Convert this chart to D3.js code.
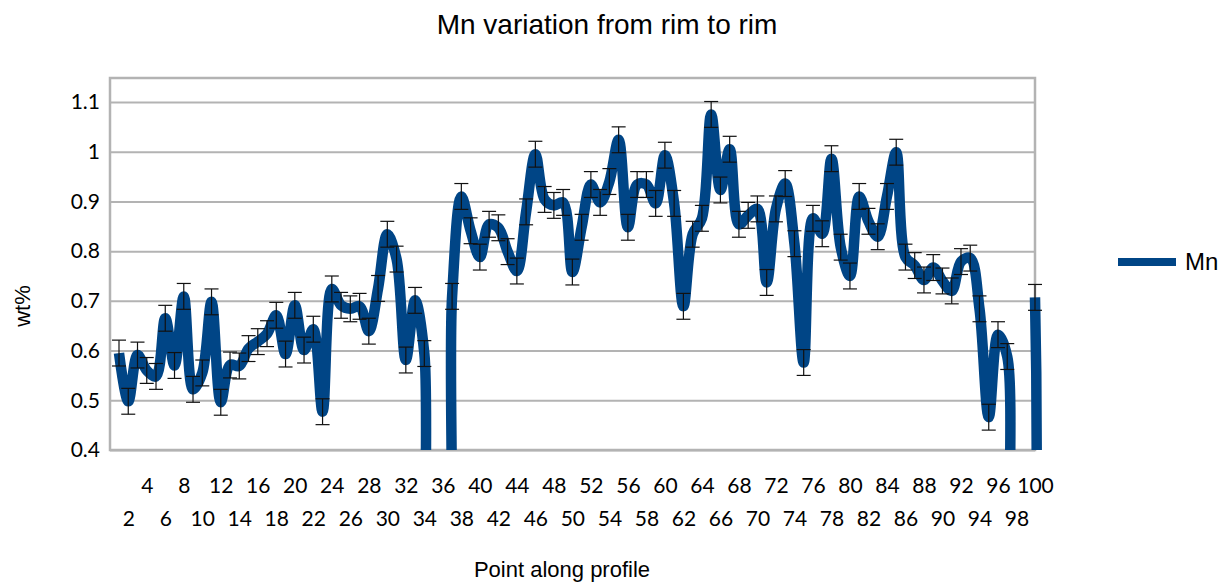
<!DOCTYPE html>
<html>
<head>
<meta charset="utf-8">
<script src="https://cdn.jsdelivr.net/npm/d3@7"></script>
<style>
  body { margin: 0; background: #fff; }
  svg { display: block; }
</style>
</head>
<body>
<script>
'use strict';

// point number along the profile (x categories)
const pointIds = [
  1, 2, 3, 4, 5, 6, 7, 8, 9, 10, 11, 12, 13, 14, 15, 16, 17, 18, 19, 20,
  21, 22, 23, 24, 25, 26, 27, 28, 29, 30, 31, 32, 33, 34, 35, 36, 37, 38, 39, 40,
  41, 42, 43, 44, 45, 46, 47, 48, 49, 50, 51, 52, 53, 54, 55, 56, 57, 58, 59, 60,
  61, 62, 63, 64, 65, 66, 67, 68, 69, 70, 71, 72, 73, 74, 75, 76, 77, 78, 79, 80,
  81, 82, 83, 84, 85, 86, 87, 88, 89, 90, 91, 92, 93, 94, 95, 96, 97, 98, 99, 100
];

// Mn wt% at each point (0 = no reading, drops off the bottom of the chart)
const mnValues = [
  0.595, 0.498, 0.591, 0.560, 0.548, 0.665, 0.570, 0.709, 0.522, 0.555,
  0.698, 0.496, 0.571, 0.569, 0.604, 0.618, 0.634, 0.671, 0.593, 0.691,
  0.601, 0.643, 0.477, 0.724, 0.691, 0.684, 0.689, 0.639, 0.725, 0.834,
  0.784, 0.581, 0.701, 0.594, 0, 0, 0.709, 0.910, 0.841, 0.788,
  0.854, 0.847, 0.799, 0.760, 0.879, 0.995, 0.904, 0.892, 0.898, 0.758,
  0.848, 0.934, 0.898, 0.940, 1.024, 0.848, 0.934, 0.934, 0.896, 0.993,
  0.896, 0.689, 0.834, 0.866, 1.075, 0.923, 1.005, 0.854, 0.872, 0.885,
  0.737, 0.885, 0.936, 0.815, 0.576, 0.866, 0.835, 0.986, 0.808, 0.750,
  0.910, 0.860, 0.829, 0.910, 0.999, 0.788, 0.771, 0.742, 0.767, 0.740,
  0.720, 0.779, 0.786, 0.684, 0.466, 0.632, 0.588, 0, 0, 0.707
];

// +/- error on every reading
const errorMargin = 0.026;

// tick labels
const xTopRow = [4, 8, 12, 16, 20, 24, 28, 32, 36, 40, 44, 48, 52, 56, 60, 64, 68, 72, 76, 80, 84, 88, 92, 96, 100];
const xBottomRow = [2, 6, 10, 14, 18, 22, 26, 30, 34, 38, 42, 46, 50, 54, 58, 62, 66, 70, 74, 78, 82, 86, 90, 94, 98];
const yTicks = [0.4, 0.5, 0.6, 0.7, 0.8, 0.9, 1, 1.1];

(function() {

  let svgContainer = "";
  const blue = "#004586";
  const gridGrey = "#b3b3b3";
  const textFont = "'Liberation Sans', Arial, sans-serif";
  const tickFont = "Lato, 'Open Sans', sans-serif";

  // plot frame
  const plot = { left: 110, right: 1035, top: 78, bottom: 450 };

  window.onload = function() {
    svgContainer = d3.select('body')
      .append('svg')
      .attr('width', 1230)
      .attr('height', 583);

    let data = pointIds.map((p, i) => ({ point: p, value: mnValues[i] }));
    let map = drawAxes();
    plotData(data, map);
    makeLabels();
  }

  // grid, frame and tick labels
  function drawAxes() {
    let xScale = d3.scaleLinear()
      .domain([1, 100])
      .range([119, plot.right]);

    let yScale = d3.scaleLinear()
      .domain([0.4, 1.1])
      .range([plot.bottom, 102]);

    // horizontal grid lines
    let yGrid = d3.axisLeft(yScale)
      .tickValues(yTicks)
      .tickSize(-(plot.right - plot.left))
      .tickFormat("");
    let g = svgContainer.append('g')
      .attr('transform', 'translate(' + plot.left + ', 0)')
      .call(yGrid);
    g.select('.domain').remove();
    g.selectAll('line')
      .attr('stroke', gridGrey)
      .attr('stroke-width', 2);

    // frame
    svgContainer.append('rect')
      .attr('x', plot.left)
      .attr('y', plot.top)
      .attr('width', plot.right - plot.left)
      .attr('height', plot.bottom - plot.top)
      .attr('fill', 'none')
      .attr('stroke', gridGrey)
      .attr('stroke-width', 2.5);

    // y tick labels
    let yAxis = d3.axisLeft(yScale)
      .tickValues(yTicks)
      .tickSize(0)
      .tickPadding(10)
      .tickFormat(d3.format("~g"));
    let gy = svgContainer.append('g')
      .attr('transform', 'translate(' + plot.left + ', 0)')
      .call(yAxis);
    gy.select('.domain').remove();
    gy.selectAll('text')
      .style('font-family', tickFont)
      .style('font-size', '21px')
      .attr('fill', '#000');

    // x tick labels, staggered over two rows
    let rows = [
      { ticks: xTopRow, y: 478 },
      { ticks: xBottomRow, y: 511 }
    ];
    rows.forEach((row) => {
      let xAxis = d3.axisBottom(xScale)
        .tickValues(row.ticks)
        .tickSize(0)
        .tickPadding(0)
        .tickFormat(d3.format("d"));
      let gx = svgContainer.append('g')
        .attr('transform', 'translate(0, ' + row.y + ')')
        .call(xAxis);
      gx.select('.domain').remove();
      gx.selectAll('text')
        .style('font-family', tickFont)
        .style('font-size', '21px')
        .attr('fill', '#000');
    });

    return { x: xScale, y: yScale };
  }

  // smooth line plus error bars
  function plotData(data, map) {
    let xScale = map.x;
    let yScale = map.y;

    svgContainer.append('clipPath')
      .attr('id', 'plotClip')
      .append('rect')
      .attr('x', plot.left)
      .attr('y', plot.top)
      .attr('width', plot.right - plot.left + 12)
      .attr('height', plot.bottom - plot.top);

    let layer = svgContainer.append('g')
      .attr('clip-path', 'url(#plotClip)');

    let line = d3.line()
      .x(d => xScale(d.point))
      .y(d => yScale(d.value))
      .curve(d3.curveCatmullRom.alpha(0.5));

    layer.append('path')
      .datum(data)
      .attr('d', line)
      .attr('fill', 'none')
      .attr('stroke', blue)
      .attr('stroke-width', 10.5)
      .attr('stroke-linejoin', 'round');

    // error bars
    let bars = layer.selectAll('.err')
      .data(data.filter(d => d.value > 0))
      .enter()
      .append('g')
      .attr('class', 'err')
      .attr('stroke', '#111')
      .attr('stroke-width', 1.2);

    bars.append('line')
      .attr('x1', d => xScale(d.point))
      .attr('x2', d => xScale(d.point))
      .attr('y1', d => yScale(d.value + errorMargin))
      .attr('y2', d => yScale(d.value - errorMargin));

    [1, -1].forEach((s) => {
      bars.append('line')
        .attr('x1', d => xScale(d.point) - 7)
        .attr('x2', d => xScale(d.point) + 7)
        .attr('y1', d => yScale(d.value + s * errorMargin))
        .attr('y2', d => yScale(d.value + s * errorMargin));
    });
  }

  // title, axis titles and legend
  function makeLabels() {
    svgContainer.append('text')
      .attr('x', 607)
      .attr('y', 34)
      .attr('text-anchor', 'middle')
      .style('font-family', textFont)
      .style('font-size', '28px')
      .text("Mn variation from rim to rim");

    svgContainer.append('text')
      .attr('x', 562)
      .attr('y', 577)
      .attr('text-anchor', 'middle')
      .style('font-family', textFont)
      .style('font-size', '22px')
      .text("Point along profile");

    svgContainer.append('text')
      .attr('transform', 'translate(30, 306)rotate(-90)')
      .attr('text-anchor', 'middle')
      .style('font-family', textFont)
      .style('font-size', '22px')
      .text("wt%");

    svgContainer.append('line')
      .attr('x1', 1118)
      .attr('x2', 1176)
      .attr('y1', 262)
      .attr('y2', 262)
      .attr('stroke', blue)
      .attr('stroke-width', 8);

    svgContainer.append('text')
      .attr('x', 1185)
      .attr('y', 270)
      .style('font-family', textFont)
      .style('font-size', '24px')
      .text("Mn");
  }

})();
</script>
</body>
</html>
